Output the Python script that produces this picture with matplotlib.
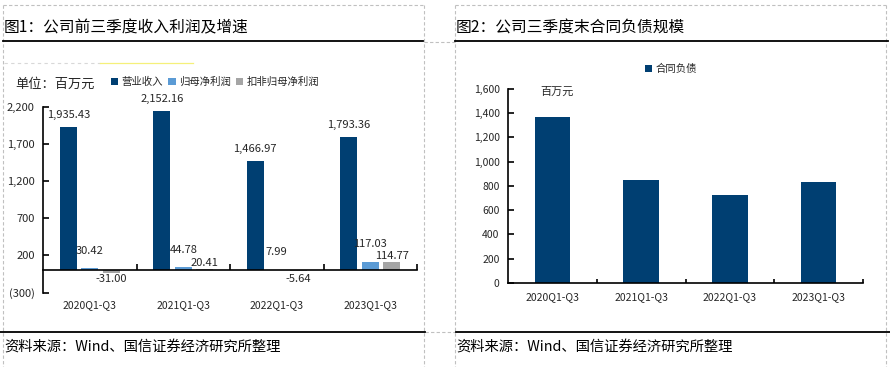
import matplotlib
matplotlib.use("Agg")
import matplotlib.pyplot as plt
from matplotlib.ticker import FuncFormatter, FixedLocator
from matplotlib.lines import Line2D
import matplotlib.transforms as mtransforms
import numpy as np

plt.rcParams['font.family'] = ['Noto Sans CJK SC', 'DejaVu Sans']

# ---------------- data ----------------
periods = ["2020Q1-Q3", "2021Q1-Q3", "2022Q1-Q3", "2023Q1-Q3"]
revenue = [1935.43, 2152.16, 1466.97, 1793.36]
net_profit = [30.42, 44.78, 7.99, 117.03]
net_profit_deducted = [-31.00, 20.41, -5.64, 114.77]
contract_liab = [1368, 845, 725, 830]

series_names = ["营业收入", "归母净利润", "扣非归母净利润"]
title1 = "图1：公司前三季度收入利润及增速"
title2 = "图2：公司三季度末合同负债规模"
source = "资料来源：Wind、国信证券经济研究所整理"

c_dark = "#003f72"
c_blue = "#5b9bd5"
c_gray = "#a5a5a5"
txt = "#262626"

W, H = 890, 367
fig = plt.figure(figsize=(W / 100, H / 100), dpi=100)


def fx(px):
    return px / W


def fy(py):
    return 1 - py / H


# ---------------- frame decorations ----------------
def hline(x0, x1, y, **kw):
    fig.add_artist(Line2D([fx(x0), fx(x1)], [fy(y), fy(y)], transform=fig.transFigure, **kw))


def vline(x, y0, y1, **kw):
    fig.add_artist(Line2D([fx(x), fx(x)], [fy(y0), fy(y1)], transform=fig.transFigure, **kw))


dash = dict(color="#c0c0c0", lw=0.8, ls=(0, (3, 2)))
vline(3, 5, 367, **dash)
vline(424, 5, 367, **dash)
hline(3, 424, 5, **dash)
hline(424, 456, 42, **dash)
hline(425, 456, 332, **dash)
vline(455, 5, 367, **dash)
vline(886, 5, 367, **dash)
hline(455, 886, 5, **dash)
hline(4, 100, 63, color="#d8d8d8", lw=0.8, ls=(0, (3, 3)))
hline(100, 193, 63, color="#f5f07a", lw=0.9)

hline(3, 423, 41, color="black", lw=1.3)
hline(455, 888, 41, color="black", lw=1.3)
hline(0, 425, 332, color="black", lw=1.3)
hline(456, 890, 332, color="black", lw=1.3)

fig.text(fx(4), fy(28), title1, fontsize=11.3, va="center", ha="left", color="black")
fig.text(fx(456), fy(28), title2, fontsize=11.3, va="center", ha="left", color="black")
fig.text(fx(4), fy(348), source, fontsize=10.3, va="center", ha="left", color="black")
fig.text(fx(456), fy(348), source, fontsize=10.3, va="center", ha="left", color="black")

# ---------------- left chart ----------------
ax1 = fig.add_axes([fx(43), fy(292.6), fx(417) - fx(43), fy(107) - fy(292.6)])
x = np.arange(len(periods))
bw = 0.18
off = 0.23
vals_list = [revenue, net_profit, net_profit_deducted]
colors = [c_dark, c_blue, c_gray]
pos_offsets = [5, 9, 0.5]
bars = []
for k, (vals, col) in enumerate(zip(vals_list, colors)):
    b = ax1.bar(x + (k - 1) * off, vals, width=bw, color=col, label=series_names[k], zorder=2)
    bars.append(b)
    for xi, v in zip(x + (k - 1) * off, vals):
        if v >= 0:
            ax1.annotate(f"{v:,.2f}", (xi, v), xytext=(0, pos_offsets[k]), textcoords="offset points",
                         ha="center", va="bottom", fontsize=8, color=txt)
        else:
            ax1.annotate(f"{v:,.2f}", (xi, 0), xytext=(0, -3), textcoords="offset points",
                         ha="center", va="top", fontsize=8, color=txt)

ax1.set_xlim(-0.5, 3.5)
ax1.set_ylim(-300, 2200)
ax1.yaxis.set_major_locator(FixedLocator([-300, 200, 700, 1200, 1700, 2200]))
ax1.yaxis.set_major_formatter(FuncFormatter(lambda v, p: f"({abs(v):,.0f})" if v < 0 else f"{v:,.0f}"))
ax1.spines["top"].set_visible(False)
ax1.spines["right"].set_visible(False)
ax1.spines["bottom"].set_position(("data", 0))
ax1.spines["left"].set_linewidth(1.2)
ax1.spines["bottom"].set_linewidth(1.2)
ax1.set_xticks([0.5, 1.5, 2.5, 3.5])
ax1.set_xticklabels([])
ax1.tick_params(axis="x", direction="in", length=4, width=1.2)
ax1.tick_params(axis="y", direction="in", length=4, width=1.2, labelsize=8, labelcolor=txt, pad=6)
trans1 = mtransforms.blended_transform_factory(ax1.transData, ax1.transAxes)
for xi, lab in zip(x, periods):
    ax1.text(xi, -0.065, lab, transform=trans1, ha="center", va="center", fontsize=7.5, color=txt)

fig.text(fx(15), fy(84), "单位：百万元", fontsize=9.5, color=txt, ha="left", va="center")
fig.legend(handles=bars, labels=series_names, loc="center", bbox_to_anchor=(fx(215), fy(82)),
           ncol=3, frameon=False, fontsize=7.5, handlelength=0.7, handleheight=0.7,
           handletextpad=0.3, columnspacing=0.5, labelcolor=txt)

# ---------------- right chart ----------------
ax2 = fig.add_axes([fx(508), fy(283), fx(863) - fx(508), fy(88.6) - fy(283)])
b2 = ax2.bar(x, contract_liab, width=0.4, color=c_dark, label="合同负债", zorder=2)
ax2.set_xlim(-0.5, 3.5)
ax2.set_ylim(0, 1600)
ax2.yaxis.set_major_locator(FixedLocator(np.arange(0, 1601, 200)))
ax2.yaxis.set_major_formatter(FuncFormatter(lambda v, p: f"{v:,.0f}"))
ax2.spines["top"].set_visible(False)
ax2.spines["right"].set_visible(False)
ax2.spines["left"].set_linewidth(1.2)
ax2.spines["bottom"].set_linewidth(1.2)
ax2.set_xticks([0.5, 1.5, 2.5, 3.5])
ax2.set_xticklabels([])
ax2.tick_params(axis="x", direction="in", length=3, width=1.2)
ax2.tick_params(axis="y", direction="in", length=4, width=1.2, labelsize=7.5, labelcolor=txt, pad=6)
trans2 = mtransforms.blended_transform_factory(ax2.transData, ax2.transAxes)
for xi, lab in zip(x, periods):
    ax2.text(xi, -0.07, lab, transform=trans2, ha="center", va="center", fontsize=7.5, color=txt)

fig.text(fx(557), fy(92), "百万元", fontsize=8, color=txt, ha="center", va="center")
fig.legend(handles=[b2], labels=["合同负债"], loc="center", bbox_to_anchor=(fx(671), fy(69)),
           frameon=False, fontsize=7.5, handlelength=0.7, handleheight=0.7,
           handletextpad=0.3, labelcolor=txt)

fig.savefig("out.png", dpi=100)
